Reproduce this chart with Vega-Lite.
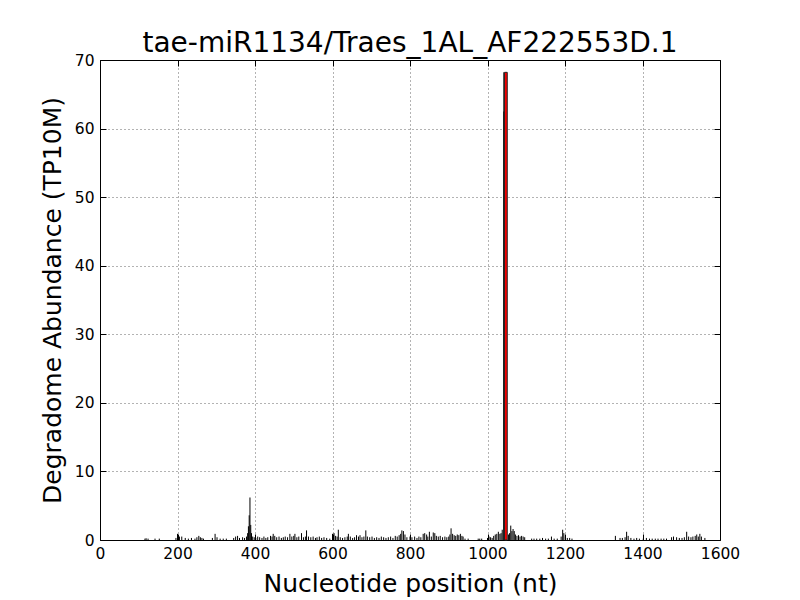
{
  "$schema": "https://vega.github.io/schema/vega-lite/v6.json",
  "autosize": "none",
  "width": 620,
  "height": 480,
  "padding": {"left": 100, "top": 60, "right": 80, "bottom": 60},
  "background": "white",
  "config": {
    "font": "DejaVu Sans",
    "view": {"stroke": "black", "strokeWidth": 1},
    "axis": {
      "grid": true, "gridColor": "black", "gridDash": [1, 3], "gridWidth": 0.6, "gridOpacity": 1,
      "domain": false, "tickColor": "black", "tickSize": -6, "tickWidth": 1,
      "labelFont": "DejaVu Sans", "labelFontSize": 15.5, "labelColor": "black",
      "titleFont": "DejaVu Sans", "titleFontSize": 25, "titleFontWeight": "normal", "titleColor": "black"
    }
  },
  "title": {"text": "tae-miR1134/Traes_1AL_AF222553D.1", "font": "DejaVu Sans", "fontSize": 28, "fontWeight": "normal", "color": "black", "offset": -5},
  "resolve": {"axis": {"x": "independent", "y": "independent"}},
  "datasets": {
    "reads": [
      {"pos":116,"val":0.2},{"pos":119,"val":0.25},{"pos":124,"val":0.2},{"pos":142,"val":0.2},{"pos":153,"val":0.2},
      {"pos":196,"val":0.3},{"pos":200,"val":0.9},{"pos":205,"val":0.5},{"pos":211,"val":0.5},{"pos":220,"val":0.3},
      {"pos":228,"val":0.2},{"pos":236,"val":0.3},{"pos":245,"val":0.2},{"pos":250,"val":0.4},{"pos":255,"val":0.6},
      {"pos":259,"val":0.4},{"pos":263,"val":0.3},{"pos":267,"val":0.2},{"pos":290,"val":0.3},{"pos":297,"val":0.9},
      {"pos":302,"val":0.4},{"pos":310,"val":0.2},{"pos":318,"val":0.2},{"pos":326,"val":0.2},{"pos":345,"val":0.3},
      {"pos":350,"val":0.5},{"pos":355,"val":0.6},{"pos":360,"val":0.3},{"pos":368,"val":0.4},{"pos":373,"val":0.3},
      {"pos":378,"val":0.5},{"pos":381,"val":1.0},{"pos":383,"val":2.0},{"pos":385,"val":3.6},{"pos":387,"val":6.2},
      {"pos":389,"val":2.2},{"pos":391,"val":1.0},{"pos":394,"val":0.5},{"pos":398,"val":0.4},{"pos":402,"val":0.3},
      {"pos":407,"val":0.5},{"pos":412,"val":0.4},{"pos":418,"val":0.3},{"pos":423,"val":0.5},{"pos":428,"val":0.3},
      {"pos":433,"val":0.4},{"pos":440,"val":0.6},{"pos":444,"val":0.5},{"pos":447,"val":0.9},{"pos":451,"val":0.6},
      {"pos":456,"val":0.4},{"pos":462,"val":0.5},{"pos":468,"val":0.3},{"pos":473,"val":0.4},{"pos":478,"val":0.5},
      {"pos":484,"val":0.4},{"pos":490,"val":0.9},{"pos":495,"val":0.5},{"pos":500,"val":0.6},{"pos":503,"val":0.9},
      {"pos":508,"val":0.4},{"pos":513,"val":0.5},{"pos":520,"val":1.0},{"pos":525,"val":0.4},{"pos":530,"val":0.5},
      {"pos":533,"val":1.4},{"pos":538,"val":0.5},{"pos":544,"val":0.4},{"pos":550,"val":0.5},{"pos":556,"val":0.3},
      {"pos":560,"val":0.4},{"pos":566,"val":0.5},{"pos":572,"val":0.3},{"pos":578,"val":0.4},{"pos":585,"val":0.3},
      {"pos":593,"val":0.2},{"pos":600,"val":0.9},{"pos":604,"val":1.0},{"pos":608,"val":0.6},{"pos":612,"val":0.5},
      {"pos":615,"val":1.5},{"pos":620,"val":0.4},{"pos":626,"val":0.3},{"pos":632,"val":0.4},{"pos":638,"val":0.5},
      {"pos":641,"val":0.9},{"pos":646,"val":0.5},{"pos":652,"val":0.3},{"pos":657,"val":0.4},{"pos":662,"val":0.7},
      {"pos":667,"val":0.5},{"pos":671,"val":0.7},{"pos":676,"val":0.4},{"pos":681,"val":0.5},{"pos":686,"val":1.4},
      {"pos":690,"val":0.5},{"pos":696,"val":0.4},{"pos":702,"val":0.5},{"pos":708,"val":0.3},{"pos":714,"val":0.4},
      {"pos":720,"val":0.3},{"pos":726,"val":0.5},{"pos":732,"val":0.4},{"pos":738,"val":0.3},{"pos":744,"val":0.4},
      {"pos":750,"val":0.5},{"pos":756,"val":0.3},{"pos":762,"val":0.6},{"pos":767,"val":0.5},{"pos":772,"val":0.7},
      {"pos":776,"val":0.9},{"pos":779,"val":1.4},{"pos":783,"val":1.3},{"pos":787,"val":0.8},{"pos":792,"val":0.4},
      {"pos":800,"val":0.5},{"pos":805,"val":0.4},{"pos":812,"val":0.5},{"pos":818,"val":0.3},{"pos":823,"val":0.5},
      {"pos":828,"val":0.4},{"pos":834,"val":0.9},{"pos":838,"val":1.0},{"pos":843,"val":0.8},{"pos":846,"val":0.5},
      {"pos":850,"val":1.2},{"pos":855,"val":0.5},{"pos":860,"val":1.1},{"pos":864,"val":1.0},{"pos":868,"val":0.6},
      {"pos":873,"val":0.5},{"pos":878,"val":0.6},{"pos":884,"val":0.4},{"pos":890,"val":0.5},{"pos":895,"val":0.4},
      {"pos":900,"val":0.5},{"pos":903,"val":0.8},{"pos":906,"val":1.7},{"pos":910,"val":0.9},{"pos":914,"val":0.7},
      {"pos":918,"val":0.6},{"pos":922,"val":0.8},{"pos":926,"val":0.7},{"pos":930,"val":0.9},{"pos":934,"val":0.6},
      {"pos":937,"val":0.5},{"pos":942,"val":0.2},{"pos":950,"val":0.2},{"pos":976,"val":0.2},{"pos":980,"val":0.2},
      {"pos":985,"val":0.2},{"pos":1000,"val":0.3},{"pos":1004,"val":0.5},{"pos":1008,"val":0.4},{"pos":1012,"val":0.3},
      {"pos":1016,"val":0.6},{"pos":1020,"val":0.8},{"pos":1024,"val":0.9},{"pos":1028,"val":1.2},{"pos":1032,"val":0.9},
      {"pos":1035,"val":1.0},{"pos":1038,"val":1.5},{"pos":1054,"val":0.8},{"pos":1057,"val":1.0},{"pos":1060,"val":2.1},
      {"pos":1063,"val":1.3},{"pos":1066,"val":1.6},{"pos":1069,"val":1.3},{"pos":1072,"val":0.8},{"pos":1076,"val":0.6},
      {"pos":1080,"val":0.7},{"pos":1084,"val":0.5},{"pos":1088,"val":0.6},{"pos":1092,"val":0.5},{"pos":1096,"val":0.4},
      {"pos":1114,"val":0.2},{"pos":1120,"val":0.2},{"pos":1127,"val":0.2},{"pos":1135,"val":0.2},{"pos":1142,"val":0.3},
      {"pos":1150,"val":0.2},{"pos":1157,"val":0.2},{"pos":1165,"val":0.5},{"pos":1172,"val":0.2},{"pos":1180,"val":0.2},
      {"pos":1190,"val":0.5},{"pos":1194,"val":1.5},{"pos":1197,"val":1.0},{"pos":1201,"val":0.5},{"pos":1206,"val":0.3},
      {"pos":1212,"val":0.3},{"pos":1218,"val":0.2},{"pos":1330,"val":0.6},{"pos":1342,"val":0.3},{"pos":1348,"val":0.3},
      {"pos":1355,"val":0.4},{"pos":1359,"val":1.2},{"pos":1363,"val":0.6},{"pos":1370,"val":0.3},{"pos":1378,"val":0.2},
      {"pos":1385,"val":0.3},{"pos":1392,"val":0.2},{"pos":1402,"val":0.2},{"pos":1410,"val":0.3},{"pos":1418,"val":0.2},
      {"pos":1425,"val":0.2},{"pos":1433,"val":0.2},{"pos":1440,"val":0.2},{"pos":1448,"val":0.2},{"pos":1455,"val":0.2},
      {"pos":1462,"val":0.2},{"pos":1475,"val":0.4},{"pos":1480,"val":0.5},{"pos":1488,"val":0.4},{"pos":1495,"val":0.3},
      {"pos":1502,"val":0.3},{"pos":1508,"val":0.4},{"pos":1514,"val":1.2},{"pos":1519,"val":0.5},{"pos":1525,"val":0.4},
      {"pos":1530,"val":0.5},{"pos":1536,"val":0.6},{"pos":1540,"val":0.8},{"pos":1544,"val":0.5},{"pos":1548,"val":0.9},
      {"pos":1552,"val":0.5},{"pos":1561,"val":0.3}
    ],
    "peakgrey": [{"start": 1040, "end": 1044, "val": 68.2}],
    "peakblack": [{"pos": 1043, "val": 62.5}],
    "site": [{"start": 1044, "end": 1051, "val": 68.2}]
  },
  "layer": [
    {
      "data": {"name": "reads"},
      "mark": {"type": "rule", "color": "black", "strokeWidth": 1},
      "encoding": {
        "x": {"field": "pos", "type": "quantitative", "scale": {"domain": [0, 1600], "nice": false},
              "axis": {"title": "Nucleotide position (nt)", "format": "d", "values": [0,200,400,600,800,1000,1200,1400,1600], "labelPadding": 12, "titlePadding": 10, "labelFlush": false}},
        "y": {"field": "val", "type": "quantitative", "scale": {"domain": [0, 70], "nice": false},
              "axis": {"title": "Degradome Abundance (TP10M)", "format": "d", "values": [0,10,20,30,40,50,60,70], "labelPadding": 12, "titlePadding": 9, "labelFlush": false}},
        "y2": {"datum": 0}
      }
    },
    {
      "data": {"name": "peakgrey"},
      "mark": {"type": "bar", "color": "#555555"},
      "encoding": {
        "x": {"field": "start", "type": "quantitative", "axis": {"orient": "top", "labels": false, "grid": false, "title": null, "values": [0,200,400,600,800,1000,1200,1400,1600]}},
        "x2": {"field": "end"},
        "y": {"field": "val", "type": "quantitative", "axis": {"orient": "right", "labels": false, "grid": false, "title": null, "values": [0,10,20,30,40,50,60,70]}},
        "y2": {"datum": 0}
      }
    },
    {
      "data": {"name": "peakblack"},
      "mark": {"type": "rule", "color": "black", "strokeWidth": 1.5},
      "encoding": {
        "x": {"field": "pos", "type": "quantitative", "axis": null},
        "y": {"field": "val", "type": "quantitative", "axis": null},
        "y2": {"datum": 0}
      }
    },
    {
      "data": {"name": "site"},
      "mark": {"type": "bar", "color": "red", "stroke": "#222222", "strokeWidth": 1},
      "encoding": {
        "x": {"field": "start", "type": "quantitative", "axis": null},
        "x2": {"field": "end"},
        "y": {"field": "val", "type": "quantitative", "axis": null},
        "y2": {"datum": 0}
      }
    }
  ]
}
